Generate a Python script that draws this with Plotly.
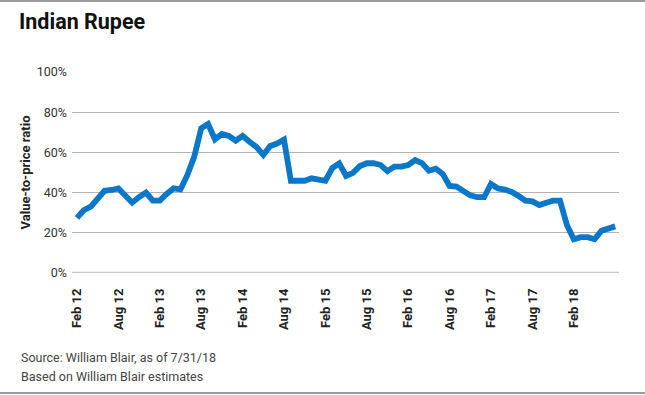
import plotly.graph_objects as go

# Monthly value-to-price ratio (%), Feb 2012 .. Aug 2018
values = [
    27.4, 31.3, 33.0, 37.3, 40.9, 41.3, 42.1, 38.6, 35.0, 37.8,
    40.0, 36.0, 36.0, 39.3, 42.1, 41.6, 48.8, 57.9, 72.0, 74.1,
    66.5, 69.2, 68.2, 65.8, 68.2, 65.3, 62.7, 58.7, 63.2, 64.4,
    66.4, 45.9, 45.9, 45.9, 47.1, 46.3, 45.9, 52.2, 54.5, 48.3,
    49.8, 53.2, 54.6, 54.6, 53.7, 50.7, 52.9, 52.9, 53.7, 56.2,
    54.7, 50.9, 51.9, 49.3, 43.3, 43.0, 40.4, 38.6, 37.7, 37.7,
    44.3, 42.1, 41.5, 40.3, 38.3, 36.0, 35.6, 33.8, 35.0, 36.0,
    36.0, 23.9, 16.8, 17.8, 17.8, 16.8, 21.0, 22.2, 23.2,
]
months = list(range(len(values)))
tick_labels = ["Feb 12", "Aug 12", "Feb 13", "Aug 13", "Feb 14", "Aug 14", "Feb 15",
               "Aug 15", "Feb 16", "Aug 16", "Feb 17", "Aug 17", "Feb 18"]
tick_positions = [6 * k for k in range(len(tick_labels))]
y_ticks = [0, 20, 40, 60, 80, 100]
y_tick_text = [f"{v}%" for v in y_ticks]

L, R, T, B = 72, 26, 72, 122
W, H = 645, 395
pw, ph = W - L - R, H - T - B

def px(x):
    return (x - L) / pw

def py(y):
    return (H - B - y) / ph

fig = go.Figure()
fig.add_trace(go.Scatter(
    x=months, y=values, mode="lines",
    line=dict(color="#0A77C9", width=5.8, shape="linear"),
    hoverinfo="skip", showlegend=False,
))

fig.update_layout(
    width=W, height=H,
    margin=dict(l=L, r=R, t=T, b=B, autoexpand=False),
    paper_bgcolor="white", plot_bgcolor="white",
    font=dict(family="Roboto", color="#222222", size=12),
    title=dict(text="<b>Indian Rupee</b>", x=19 / W, xanchor="left",
               y=1 - 21 / H, yanchor="middle",
               font=dict(family="Roboto", size=21.5, color="#111111")),
    xaxis=dict(range=[-0.72, 78.55], tickmode="array", tickvals=tick_positions,
               ticktext=[f"<b>{t}</b>" for t in tick_labels], tickangle=-90,
               showgrid=False, zeroline=False, showline=False, ticks="",
               ticklabelstandoff=12,
               tickfont=dict(size=13, color="#222222"), fixedrange=True),
    yaxis=dict(range=[0, 100], tickmode="array", tickvals=y_ticks,
               ticktext=y_tick_text, showgrid=True, gridcolor="#b4b4b4", gridwidth=1,
               zeroline=False, showline=False, ticks="",
               ticklabelstandoff=4,
               tickfont=dict(size=12.5, color="#333333"),
               title=dict(text="<b>Value-to-price ratio</b>", standoff=3,
                          font=dict(size=13, color="#222222")),
               fixedrange=True),
)

# 0% baseline (slightly heavier, lighter gray)
fig.add_shape(type="line", xref="paper", yref="y", x0=0, x1=1, y0=0, y1=0,
              line=dict(color="#c8c8c8", width=2.5), layer="below")
# top and bottom frame rules
for yy in (1, 393):
    fig.add_shape(type="line", xref="paper", yref="paper",
                  x0=px(0), x1=px(W), y0=py(yy), y1=py(yy),
                  line=dict(color="#7a7a7a", width=1.5))

fig.add_annotation(text="Source: William Blair, as of 7/31/18", xref="paper", yref="paper",
                   x=px(19), y=py(357), xanchor="left", yanchor="middle", showarrow=False,
                   font=dict(size=12.5, color="#444444", family="Roboto"))
fig.add_annotation(text="Based on William Blair estimates", xref="paper", yref="paper",
                   x=px(19), y=py(376), xanchor="left", yanchor="middle", showarrow=False,
                   font=dict(size=12.5, color="#444444", family="Roboto"))

fig.write_html(
    "out.html",
    config={"displayModeBar": False, "staticPlot": True},
    post_script="document.body.style.margin='0';document.body.style.overflow='hidden';",
)
